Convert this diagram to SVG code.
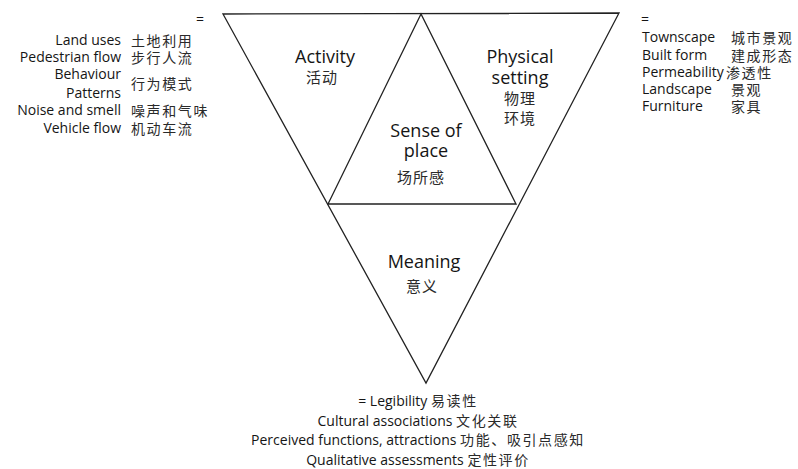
<svg xmlns="http://www.w3.org/2000/svg" width="798" height="469" viewBox="0 0 798 469">
<style>
.en{font-family:"Open Sans","Noto Sans",sans-serif;fill:#151515}
.zh{font-family:"Noto Sans CJK SC","Noto Sans",sans-serif;fill:#2a2a2a}
.s{font-size:14px}
.l{font-size:18px}
.zs{font-size:14px;letter-spacing:1.6px}
.zl{font-size:15px;letter-spacing:1px}
.ln{fill:none;stroke:#222222;stroke-width:1.3;stroke-linejoin:miter}
</style>
<rect width="798" height="469" fill="#ffffff"/>
<g id="connectors">
<polygon class="ln" points="223,14 619,13 426,383"/>
<polygon class="ln" points="421,14 328,204 516,204"/>
</g>
<g id="activity">
<text class="en l" x="325" y="63" text-anchor="middle">Activity</text>
<text class="zh zl" x="322" y="83" text-anchor="middle">活动</text>
</g>
<g id="physical-setting">
<text class="en l" x="520" y="63" text-anchor="middle">Physical</text>
<text class="en l" x="520" y="84" text-anchor="middle">setting</text>
<text class="zh zl" x="520" y="104" text-anchor="middle">物理</text>
<text class="zh zl" x="520" y="124" text-anchor="middle">环境</text>
</g>
<g id="sense-of-place">
<text class="en l" x="426" y="137" text-anchor="middle">Sense of</text>
<text class="en l" x="426" y="157" text-anchor="middle">place</text>
<text class="zh zl" x="421" y="183" text-anchor="middle">场所感</text>
</g>
<g id="meaning">
<text class="en l" x="424" y="268" text-anchor="middle">Meaning</text>
<text class="zh zl" x="422" y="292" text-anchor="middle">意义</text>
</g>
<g id="activity-list">
<text class="en s" x="200" y="24" text-anchor="middle">=</text>
<text class="en s" x="121" y="45" text-anchor="end">Land uses</text>
<text class="zh zs" x="131" y="46">土地利用</text>
<text class="en s" x="121" y="62" text-anchor="end">Pedestrian flow</text>
<text class="zh zs" x="131" y="63">步行人流</text>
<text class="en s" x="121" y="79" text-anchor="end">Behaviour</text>
<text class="en s" x="121" y="98" text-anchor="end">Patterns</text>
<text class="zh zs" x="131" y="89">行为模式</text>
<text class="en s" x="121" y="115" text-anchor="end">Noise and smell</text>
<text class="zh zs" x="131" y="116">噪声和气味</text>
<text class="en s" x="121" y="133" text-anchor="end">Vehicle flow</text>
<text class="zh zs" x="131" y="134">机动车流</text>
</g>
<g id="physical-list">
<text class="en s" x="645" y="24" text-anchor="middle">=</text>
<text class="en s" x="642" y="42">Townscape</text>
<text class="zh zs" x="731" y="43">城市景观</text>
<text class="en s" x="642" y="59.5">Built form</text>
<text class="zh zs" x="731" y="60.5">建成形态</text>
<text class="en s" x="642" y="77">Permeability</text>
<text class="zh zs" x="726" y="78">渗透性</text>
<text class="en s" x="642" y="94">Landscape</text>
<text class="zh zs" x="731" y="95">景观</text>
<text class="en s" x="642" y="111">Furniture</text>
<text class="zh zs" x="731" y="112">家具</text>
</g>
<g id="meaning-list">
<text class="en s" x="418" y="406" text-anchor="middle">= Legibility <tspan class="zh zs">易读性</tspan></text>
<text class="en s" x="418" y="426" text-anchor="middle">Cultural associations <tspan class="zh zs">文化关联</tspan></text>
<text class="en s" x="418" y="445" text-anchor="middle">Perceived functions, attractions <tspan class="zh zs">功能、吸引点感知</tspan></text>
<text class="en s" x="418" y="465" text-anchor="middle">Qualitative assessments <tspan class="zh zs">定性评价</tspan></text>
</g>
</svg>
